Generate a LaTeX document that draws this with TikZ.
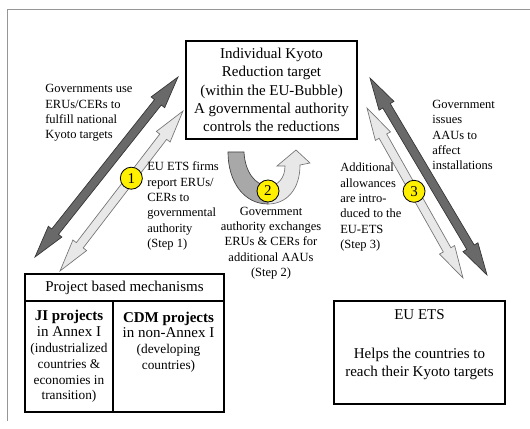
\documentclass[tikz,border=0pt]{standalone}
\usepackage{fontspec}
\setmainfont{Liberation Serif}
\usepackage{tikz}
\usetikzlibrary{calc,positioning,shapes.arrows}

\definecolor{stepyellow}{RGB}{255, 240, 0}
\definecolor{arrowdark}{RGB}{105, 105, 105}
\definecolor{arrowlight}{RGB}{232, 232, 232}
\definecolor{curvdark}{RGB}{168, 168, 168}
\definecolor{framegray}{RGB}{150, 150, 150}

\tikzset{
  box/.style={draw, line width=0.8pt, align=center, inner sep=0pt, outer sep=0pt},
  note/.style={font=\fontsize{7.5}{9.2}\selectfont, align=left, inner sep=0pt, anchor=west},
  fatarrow/.style={double arrow, draw, line width=0.4pt, inner xsep=0pt, inner ysep=2.4pt,
    double arrow head extend=2.6pt, double arrow tip angle=30},
  stepdot/.style={circle, draw, line width=0.5pt, fill=stepyellow, inner sep=0pt,
    minimum size=13.2pt, font=\small}
}

% fat double arrow between two named coordinates
\newcommand{\fatarrow}[4]{%
  \path let \p1=($(#3)-(#2)$), \n1={atan2(\y1,\x1)}, \n2={veclen(\x1,\y1)} in
    node[fatarrow, #4, rotate=\n1, minimum height=\n2] (#1) at ($(#2)!0.5!(#3)$) {};}

\begin{document}
\begin{tikzpicture}[x=0.6pt, y=-0.6pt]
    \useasboundingbox (0,0) rectangle (530,429);
    \draw[framegray, line width=0.6pt] (7.5,421) -- (7.5,9.5) -- (530,9.5);

    % boxes
    \node[box, font=\small, minimum width=102.6pt, minimum height=58.8pt] (kyoto) at (271.5,90)
        {Individual Kyoto\\Reduction target\\(within the EU-Bubble)\\A governmental authority\\controls the reductions};
    \node[box, font=\small, minimum width=119.4pt, minimum height=16.2pt] (pbm) at (124.5,287.5)
        {Project based mechanisms};
    \node[box, font=\footnotesize, minimum width=52.8pt, minimum height=66.6pt, anchor=north west] (ji) at (pbm.south west)
        {{\small\bfseries JI projects}\\{\small in Annex I}\\(industrialized\\countries \&\\economies in\\transition)};
    \node[box, font=\footnotesize, minimum width=66.6pt, minimum height=66.6pt, anchor=north west] (cdm) at (ji.north east)
        {{\small\bfseries CDM projects}\\{\small in non-Annex I}\\(developing\\countries)\\ \mbox{}\\ \mbox{}};
    \node[box, font=\small, minimum width=102.6pt, minimum height=61.8pt] (ets) at (419.5,352.5)
        {EU ETS\\[12pt]Helps the countries to\\reach their Kyoto targets\\ \mbox{}};

    % arrow ends
    \coordinate (dkLhi) at (178,77);  \coordinate (dkLlo) at (35,257);
    \coordinate (ltLhi) at (183,111); \coordinate (ltLlo) at (60,271);
    \coordinate (dkRhi) at (370,78);  \coordinate (dkRlo) at (487,275);
    \coordinate (ltRhi) at (367,108); \coordinate (ltRlo) at (463,278);

    \fatarrow{useL}{dkLlo}{dkLhi}{fill=arrowdark, draw=black!80}
    \fatarrow{reportL}{ltLlo}{ltLhi}{fill=arrowlight, draw=black!55}
    \fatarrow{issueR}{dkRlo}{dkRhi}{fill=arrowdark, draw=black!80}
    \fatarrow{addR}{ltRlo}{ltRhi}{fill=arrowlight, draw=black!55}

    % exchange arrow
    \draw[fill=curvdark, draw=black!75, line width=0.4pt] (228,152) -- (244,152)
        .. controls (245,172) and (255,185) .. (268,186) -- (268,204)
        .. controls (244,204) and (228,182) .. (228,152) -- cycle;
    \draw[fill=arrowlight, draw=black!55, line width=0.4pt] (268,186)
        .. controls (278,186) and (285,178) .. (285,166) -- (277,166) -- (296,150) -- (310,163) -- (300,165)
        .. controls (300,190) and (286,204) .. (268,204) -- cycle;

    % steps
    \node[stepdot] (s1) at ($(ltLlo)!0.58!(ltLhi)$) {1};
    \node[stepdot] (s2) at (268,191) {2};
    \node[stepdot] (s3) at ($(ltRhi)!0.49!(ltRlo)$) {3};

    % labels
    \node[note] (govuse) at (45,113) {Governments use\\ERUs/CERs to\\fulfill national\\Kyoto targets};
    \node[note] (step1txt) at (147,206) {EU ETS firms\\report ERUs/\\CERs to\\governmental\\authority\\(Step 1)};
    \node[note, anchor=center, align=center] (step2txt) at (271,243)
        {Government\\authority exchanges\\ERUs \& CERs for\\additional AAUs\\(Step 2)};
    \node[note] (step3txt) at (340,207) {Additional\\allowances\\are intro-\\duced to the\\EU-ETS\\(Step 3)};
    \node[note] (govissue) at (432,135) {Government\\issues\\AAUs to\\affect\\installations};
\end{tikzpicture}
\end{document}
